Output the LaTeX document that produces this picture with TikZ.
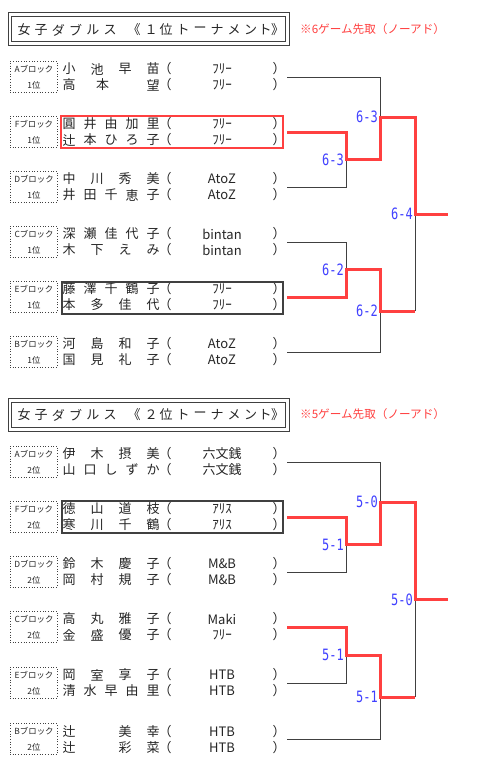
\documentclass[tikz,border=0pt]{standalone}
\usepackage{fontspec}
\setmainfont{Noto Sans CJK JP}
\newfontfamily\monof{DejaVu Sans Mono}
\definecolor{lin}{HTML}{404040}
\definecolor{wred}{HTML}{FF4040}
\definecolor{sblue}{HTML}{4040FF}
\tikzset{
  nm/.style={inner sep=0pt, font=\fontsize{13}{13}\selectfont, text=black!85},
  ttl/.style={inner sep=0pt, font=\fontsize{13}{13}\selectfont, text=black!85},
  lbl/.style={inner sep=0pt, font=\fontsize{8.4}{8.4}\selectfont, text=black!85},
  note/.style={inner sep=0pt, anchor=west, font=\fontsize{11.6}{11.6}\selectfont, text=wred},
  dotbox/.style={draw=lin, dotted, line width=0.7pt, minimum width=47pt, minimum height=31pt, inner sep=0pt},
  tbox/.style={draw=lin, double=white, double distance=2.4pt, line width=1pt, minimum width=277.5pt, minimum height=29pt, inner sep=0pt},
  rbox/.style={draw=wred, line width=2.5pt, minimum width=222pt, minimum height=32pt, inner sep=0pt},
  kbox/.style={draw=lin, line width=2pt, minimum width=221pt, minimum height=32pt, inner sep=0pt},
  bline/.style={draw=lin, line width=1pt},
  rline/.style={draw=wred, line width=3pt},
  score/.style={inner sep=0pt, anchor=east, text=sblue, font=\monof\fontsize{12}{12}\selectfont},
}
\newcommand\nrow[5]{%
  \foreach \c [count=\i] in {#4} {\node[nm] (#1n\i) at ({69+(\i-1)*84/(#3-1)},{#2}) {\c};}
  \node[nm] (#1o) at (165,{#2}) {（};
  \node[nm] (#1t) at (222,{#2}) {#5};
  \node[nm] (#1e) at (279,{#2}) {）};
}
\newcommand\blk[4]{%
  \node[lbl] (#1a) at (34,{#2-8}) {#3ブロック};
  \node[lbl] (#1b) at (34,{#2+8}) {#4位};
  \node[dotbox] (#1x) at (33.5,{#2-0.5}) {};
}
\newcommand\scr[4]{\node[score] (#1) at (#2,#3) {\scalebox{1}[1.3]{#4}};}
\begin{document}
\begin{tikzpicture}[x=1pt,y=-1pt]
\useasboundingbox[fill=white] (0,0) rectangle (493,774);

% ---------- titles ----------
\node[tbox] (tb1) at (148.75,29) {};
\foreach \c/\x [count=\i] in {女/24,子/41.2,ダ/58.4,ブ/75.6,ル/92.8,ス/110,《/134,１/151,位/166,ト/183,ー/200,ナ/217,メ/234,ン/250.5,ト/265,》/277.5}
  {\node[ttl] (ta\i) at (\x,30) {\c};}
\node[note] (n1) at (300,29) {※6ゲーム先取（ノーアド）};

\node[tbox] (tb2) at (148.75,415) {};
\foreach \c/\x [count=\i] in {女/24,子/41.2,ダ/58.4,ブ/75.6,ル/92.8,ス/110,《/134,２/151,位/166,ト/183,ー/200,ナ/217,メ/234,ン/250.5,ト/265,》/277.5}
  {\node[ttl] (tc\i) at (\x,415) {\c};}
\node[note] (n2) at (300,414) {※5ゲーム先取（ノーアド）};

% ---------- 1st tournament entries ----------
\blk{uA}{77}{A}{1}
\nrow{uA1}{69}{4}{小,池,早,苗}{ﾌﾘｰ}
\nrow{uA2}{85}{6}{高,,本,,,望}{ﾌﾘｰ}
\blk{uF}{132}{F}{1}
\nrow{uF1}{124}{5}{圓,井,由,加,里}{ﾌﾘｰ}
\nrow{uF2}{140}{5}{辻,本,ひ,ろ,子}{ﾌﾘｰ}
\blk{uD}{187}{D}{1}
\nrow{uD1}{179}{4}{中,川,秀,美}{AtoZ}
\nrow{uD2}{195}{5}{井,田,千,恵,子}{AtoZ}
\blk{uC}{242}{C}{1}
\nrow{uC1}{234}{5}{深,瀬,佳,代,子}{bintan}
\nrow{uC2}{250}{4}{木,下,え,み}{bintan}
\blk{uE}{297}{E}{1}
\nrow{uE1}{289}{5}{藤,澤,千,鶴,子}{ﾌﾘｰ}
\nrow{uE2}{305}{4}{本,多,佳,代}{ﾌﾘｰ}
\blk{uB}{352}{B}{1}
\nrow{uB1}{344}{4}{河,島,和,子}{AtoZ}
\nrow{uB2}{360}{4}{国,見,礼,子}{AtoZ}

\node[rbox] (ufbox) at (172,132) {};
\node[kbox] (uebox) at (172,298) {};

% ---------- 1st bracket ----------
\coordinate (uA0) at (287,77);  \coordinate (uA1) at (380,77);
\coordinate (uF0) at (287,132); \coordinate (uF1) at (346,132);
\coordinate (uD0) at (287,187); \coordinate (uD1) at (346,187);
\coordinate (uFD) at (346,159.5); \coordinate (uFD2) at (380,159.5);
\coordinate (uS1) at (380,117); \coordinate (uS1b) at (415,117);
\coordinate (uC0) at (287,242); \coordinate (uC1) at (346,242);
\coordinate (uE0) at (287,297); \coordinate (uE1) at (346,297);
\coordinate (uCE) at (346,269.5); \coordinate (uCE2) at (380,269.5);
\coordinate (uB0) at (287,352); \coordinate (uB1) at (380,352);
\coordinate (uS2) at (380,311); \coordinate (uS2b) at (415,311);
\coordinate (uW) at (415,214); \coordinate (uW2) at (448,214);

\draw[bline] (uA0) -- (uA1) -- (uS1);
\draw[bline] (uD0) -- (uD1) -- (uFD);
\draw[bline] (uC0) -- (uC1) -- (uCE);
\draw[bline] (uB0) -- (uB1) -- (uS2);
\draw[bline] (uS2b) -- (uW);
\draw[rline] (uF0) -- (uF1) -- (uFD) -- (uFD2) -- (uS1) -- (uS1b) -- (uW) -- (uW2);
\draw[rline] (uE0) -- (uE1) -- (uCE) -- (uCE2) -- (uS2) -- (uS2b);

\scr{us1}{378}{117}{6-3}
\scr{us2}{344}{159.5}{6-3}
\scr{us3}{413}{214}{6-4}
\scr{us4}{344}{269.5}{6-2}
\scr{us5}{378}{311}{6-2}

% ---------- 2nd tournament entries ----------
\blk{lA}{462}{A}{2}
\nrow{lA1}{454}{4}{伊,木,摂,美}{六文銭}
\nrow{lA2}{470}{5}{山,口,し,ず,か}{六文銭}
\blk{lF}{517}{F}{2}
\nrow{lF1}{509}{4}{徳,山,道,枝}{ｱﾘｽ}
\nrow{lF2}{525}{4}{寒,川,千,鶴}{ｱﾘｽ}
\blk{lD}{572}{D}{2}
\nrow{lD1}{564}{4}{鈴,木,慶,子}{M\&B}
\nrow{lD2}{580}{4}{岡,村,規,子}{M\&B}
\blk{lC}{627}{C}{2}
\nrow{lC1}{619}{4}{高,丸,雅,子}{Maki}
\nrow{lC2}{635}{4}{金,盛,優,子}{ﾌﾘｰ}
\blk{lE}{683}{E}{2}
\nrow{lE1}{675}{4}{岡,室,享,子}{HTB}
\nrow{lE2}{691}{5}{清,水,早,由,里}{HTB}
\blk{lB}{739.5}{B}{2}
\nrow{lB1}{731.5}{4}{辻,,美,幸}{HTB}
\nrow{lB2}{747.5}{4}{辻,,彩,菜}{HTB}

\node[kbox] (lfbox) at (172.5,517) {};

% ---------- 2nd bracket ----------
\coordinate (lA0) at (287,462);  \coordinate (lA1) at (380,462);
\coordinate (lF0) at (287,517);  \coordinate (lF1) at (346,517);
\coordinate (lD0) at (287,572);  \coordinate (lD1) at (346,572);
\coordinate (lFD) at (346,544.5); \coordinate (lFD2) at (380,544.5);
\coordinate (lS1) at (380,502);  \coordinate (lS1b) at (415,502);
\coordinate (lC0) at (287,627);  \coordinate (lC1) at (346,627);
\coordinate (lE0) at (287,683);  \coordinate (lE1) at (346,683);
\coordinate (lCE) at (346,655);  \coordinate (lCE2) at (380,655);
\coordinate (lB0) at (287,739.5);  \coordinate (lB1) at (380,739.5);
\coordinate (lS2) at (380,697);  \coordinate (lS2b) at (415,697);
\coordinate (lW) at (415,599.5); \coordinate (lW2) at (448,599.5);

\draw[bline] (lA0) -- (lA1) -- (lS1);
\draw[bline] (lD0) -- (lD1) -- (lFD);
\draw[bline] (lE0) -- (lE1) -- (lCE);
\draw[bline] (lB0) -- (lB1) -- (lS2);
\draw[bline] (lS2b) -- (lW);
\draw[rline] (lF0) -- (lF1) -- (lFD) -- (lFD2) -- (lS1) -- (lS1b) -- (lW) -- (lW2);
\draw[rline] (lC0) -- (lC1) -- (lCE) -- (lCE2) -- (lS2) -- (lS2b);

\scr{ls1}{378}{502}{5-0}
\scr{ls2}{344}{544.5}{5-1}
\scr{ls3}{413}{599.5}{5-0}
\scr{ls4}{344}{655}{5-1}
\scr{ls5}{378}{697}{5-1}
\end{tikzpicture}
\end{document}
